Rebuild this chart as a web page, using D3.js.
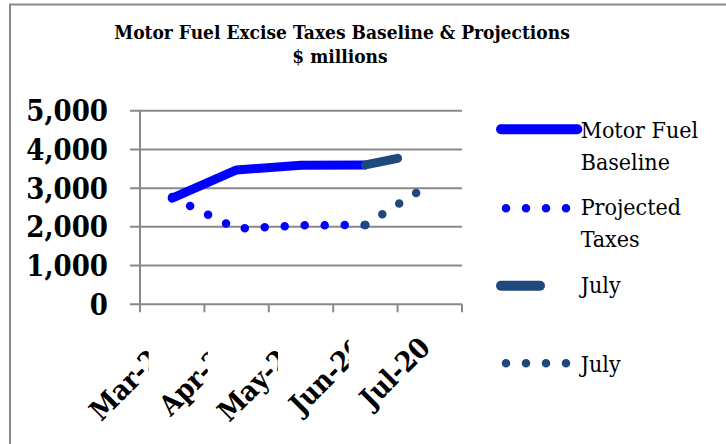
<!DOCTYPE html>
<html>
<head>
<meta charset="utf-8">
<script src="https://cdn.jsdelivr.net/npm/d3@7"></script>
<style>
  body { margin: 0; background: #fff; }
  svg { display: block; }
</style>
</head>
<body>
<div id="chart"></div>
<script>
// values, $ millions
const months = ['Mar-20', 'Apr-20', 'May-20', 'Jun-20', 'Jul-20'];
const yTicks = [0, 1000, 2000, 3000, 4000, 5000];

// position along the month axis (0 = start of Mar)
const baselineAt = [0.5, 1.5, 2.5, 3.5];
const baselineValues = [2740, 3470, 3590, 3600];
const projectedAt = [0.5, 1.5, 2.5, 3.5];
const projectedValues = [2770, 1950, 2040, 2050];
const julyLineAt = [3.5, 4.0];
const julyLineValues = [3600, 3770];
const julyDotsAt = [3.5, 4.5];
const julyDotsValues = [2050, 3100];

const legendNames = [['Motor Fuel', 'Baseline'], ['Projected', 'Taxes'], ['July'], ['July']];

const width = 726, height = 444;
const BLUE = '#0000ff', DARK = '#1f497d', GRID = '#898989';
const serif = '"DejaVu Serif Condensed", "DejaVu Serif", serif';

const svg = d3.select('#chart').append('svg')
  .attr('width', width)
  .attr('height', height);

svg.append('rect').attr('width', width).attr('height', height).attr('fill', '#fff');

// frame (only top and left edges show in the picture)
svg.append('path')
  .attr('d', `M10,${height} V4.5 H${width}`)
  .attr('fill', 'none')
  .attr('stroke', GRID)
  .attr('stroke-width', 2);

// title
const title = svg.append('text')
  .attr('text-anchor', 'middle')
  .attr('font-family', serif)
  .attr('font-weight', 'bold')
  .attr('font-size', 19)
  .attr('fill', '#000');
title.append('tspan').attr('x', 342).attr('y', 39).text('Motor Fuel Excise Taxes Baseline & Projections');
title.append('tspan').attr('x', 340).attr('y', 63).text('$ millions');

const plot = { left: 140, right: 462, top: 110.7, bottom: 304.3 };

const xBand = d3.scaleBand().domain(months).range([plot.left, plot.right]);
const x = d3.scaleLinear().domain([0, months.length]).range([plot.left, plot.right]);
const y = d3.scaleLinear().domain([0, 5000]).range([plot.bottom, plot.top]);

// gridlines + y labels
const yAxis = svg.append('g');
yAxis.selectAll('line')
  .data(yTicks)
  .join('line')
  .attr('x1', plot.left - 10)
  .attr('x2', plot.right)
  .attr('y1', d => y(d))
  .attr('y2', d => y(d))
  .attr('stroke', GRID)
  .attr('stroke-width', 2);
yAxis.selectAll('text')
  .data(yTicks)
  .join('text')
  .attr('x', 108)
  .attr('y', d => y(d))
  .attr('dy', '0.36em')
  .attr('text-anchor', 'end')
  .attr('font-family', serif)
  .attr('font-weight', 'bold')
  .attr('font-size', 29)
  .text(d => d3.format(',')(d));

// y axis line
svg.append('line')
  .attr('x1', plot.left).attr('x2', plot.left)
  .attr('y1', plot.top).attr('y2', plot.bottom + 8)
  .attr('stroke', GRID).attr('stroke-width', 2);

// x ticks at month boundaries
svg.append('g').selectAll('line')
  .data(months)
  .join('line')
  .attr('x1', d => xBand(d) + xBand.bandwidth())
  .attr('x2', d => xBand(d) + xBand.bandwidth())
  .attr('y1', plot.bottom)
  .attr('y2', plot.bottom + 8)
  .attr('stroke', GRID)
  .attr('stroke-width', 2);

// x labels, rotated; each one is cut where the next one starts
const labels = svg.append('g').selectAll('g')
  .data(months)
  .join('g');
labels.append('text')
  .attr('transform', d => `translate(${xBand(d) + xBand.bandwidth() / 2 + 2},${plot.bottom + 45}) rotate(-45)`)
  .attr('text-anchor', 'end')
  .attr('font-family', serif)
  .attr('font-weight', 'bold')
  .attr('font-size', 28)
  .text(d => d);

const boxes = labels.nodes().map(n => n.getBBox());
const defs = svg.append('defs');
labels.each(function (d, i) {
  if (i === months.length - 1) return;
  defs.append('clipPath')
    .attr('id', 'lbl-clip-' + i)
    .attr('clipPathUnits', 'userSpaceOnUse')
    .append('rect')
    .attr('x', 0)
    .attr('y', 0)
    .attr('width', boxes[i + 1].x - 3)
    .attr('height', height);
  d3.select(this).attr('clip-path', `url(#lbl-clip-${i})`);
});

// series
const line = d3.line().x(d => x(d[0])).y(d => y(d[1]));
const zip = (a, b) => a.map((v, i) => [v, b[i]]);

const series = [
  { pts: zip(baselineAt, baselineValues), color: BLUE, dotted: false },
  { pts: zip(projectedAt, projectedValues), color: BLUE, dotted: true },
  { pts: zip(julyLineAt, julyLineValues), color: DARK, dotted: false },
  { pts: zip(julyDotsAt, julyDotsValues), color: DARK, dotted: true },
];

svg.append('g').selectAll('path')
  .data(series)
  .join('path')
  .attr('d', d => line(d.pts))
  .attr('fill', 'none')
  .attr('stroke', d => d.color)
  .attr('stroke-width', d => d.dotted ? 8.5 : 9)
  .attr('stroke-linecap', 'round')
  .attr('stroke-linejoin', 'round')
  .attr('stroke-dasharray', d => d.dotted ? '0 20' : null);

// legend
const legendRows = [
  { y: 129.3, x2: 577.3, textY: 138.3 },
  { y: 208.3, x2: 566.5, textY: 215 },
  { y: 285.7, x2: 540, textY: 293.3 },
  { y: 363.3, x2: 566.5, textY: 371.7 },
];
const legend = svg.append('g');
legendRows.forEach((r, i) => {
  const s = series[i];
  legend.append('line')
    .attr('x1', s.dotted ? 506 : 501)
    .attr('x2', r.x2)
    .attr('y1', r.y).attr('y2', r.y)
    .attr('stroke', s.color)
    .attr('stroke-width', s.dotted ? 8.5 : 10)
    .attr('stroke-linecap', 'round')
    .attr('stroke-dasharray', s.dotted ? '0 20' : null);
  const t = legend.append('text')
    .attr('font-family', serif)
    .attr('font-size', 23)
    .attr('fill', '#000');
  legendNames[i].forEach((name, j) => {
    t.append('tspan').attr('x', 580.7).attr('y', r.textY + j * 31.7).text(name);
  });
});
</script>
</body>
</html>
